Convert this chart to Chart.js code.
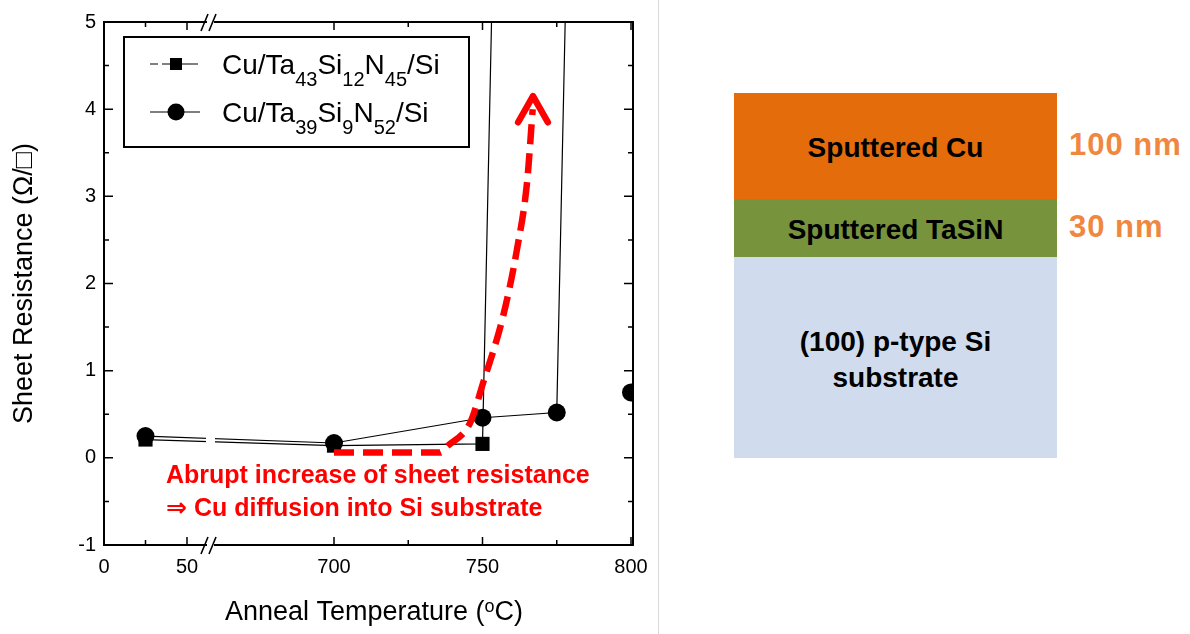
<!DOCTYPE html>
<html>
<head>
<meta charset="utf-8">
<script src="https://cdn.jsdelivr.net/npm/chart.js@4.4.1/dist/chart.umd.min.js"></script>
<style>
  body { margin: 0; background: #fff; }
  #wrap { position: relative; width: 1190px; height: 634px; overflow: hidden; }
  #plot { position: absolute; left: 0; top: 0; width: 660px; height: 634px; }
  #divider { position: absolute; left: 658px; top: 0; width: 1px; height: 634px; background: #d9d9d9; }
  .layer { position: absolute; left: 734px; width: 323px; display: flex; align-items: center; justify-content: center;
           box-sizing: border-box; padding-top: 4px;
           text-align: center; font: bold 28px 'Liberation Sans', Arial, sans-serif; color: #000; line-height: 36px; }
  .thick { position: absolute; left: 1069px; font: bold 31px 'Liberation Sans', Arial, sans-serif; color: #F0873F; letter-spacing: 1px; }
</style>
</head>
<body>
<div id="wrap">
  <div id="plot"><canvas id="chart" width="660" height="634"></canvas></div>
  <div id="divider"></div>
  <div id="stack"></div>
</div>
<script>
// sheet resistance vs anneal temperature
const squareTemps = [25, 700, 750, 775];
const squareRs = [0.21, 0.14, 0.16, 40];
const circleTemps = [25, 700, 750, 775, 800];
const circleRs = [0.25, 0.17, 0.46, 0.52, 40];
const edgeTemps = [800];
const edgeRs = [0.75];

const squareLabel = ['Cu/Ta', '43', 'Si', '12', 'N', '45', '/Si'];
const circleLabel = ['Cu/Ta', '39', 'Si', '9', 'N', '52', '/Si'];

// red annotation arrow
const arrowTemps = [700, 735.7, 738, 745.8, 750.2, 756.9, 761.6, 765, 766.9];
const arrowRs = [0.06, 0.06, 0.13, 0.40, 0.86, 1.62, 2.39, 3.16, 4.0];
const headTemps = [762, 767, 772];
const headRs = [3.85, 4.15, 3.85];
const noteLines = ['Abrupt increase of sheet resistance', '\u21D2 Cu diffusion into Si substrate'];

const xTickTemps = [0, 50, 700, 750, 800];
const xTickLabels = ['0', '50', '700', '750', '800'];
const xMinorTemps = [25, 725, 775];

// layer stack
const layerNames = [['Sputtered Cu'], ['Sputtered TaSiN'], ['(100) p-type Si', 'substrate']];
const layerThickness = ['100 nm', '30 nm', ''];
const layerColors = ['#E46C0A', '#77933C', '#D0DCEE'];

// broken axis: 0-100 and 700-800 share one linear scale
function tv(t) {
    return t <= 100 ? t * 1.66 : 230 + (t - 700) * 2.97;
}
const breakV = 106;

const FONT = "'Liberation Sans', 'DejaVu Sans', Arial, sans-serif";

function pts(ts, vs) { return ts.map((t, i) => ({ x: tv(t), y: vs[i] })); }

function drawRich(ctx, parts, x, y, size, subSize, subDy) {
    parts.forEach((p, i) => {
        const sub = i % 2 === 1;
        ctx.font = (sub ? subSize : size) + 'px ' + FONT;
        ctx.fillText(p, x, sub ? y + subDy : y);
        x += ctx.measureText(p).width;
    });
}

const framePlugin = {
    id: 'frame',
    afterDatasetsDraw(chart) {
        const ctx = chart.ctx, xs = chart.scales.x, ys = chart.scales.y;
        // gap in the data line at the axis break
        const bx = xs.getPixelForValue(breakV);
        ctx.save();
        ctx.fillStyle = '#fff';
        ctx.fillRect(bx - 4, ys.getPixelForValue(0.5), 9, ys.getPixelForValue(-0.05) - ys.getPixelForValue(0.5));
        ctx.restore();
    },
    afterDraw(chart) {
        const ctx = chart.ctx, xs = chart.scales.x, ys = chart.scales.y;
        const a = chart.chartArea;
        ctx.save();
        ctx.strokeStyle = '#000';
        ctx.lineWidth = 2;
        ctx.strokeRect(a.left, a.top, a.right - a.left, a.bottom - a.top);
        ctx.lineWidth = 1.5;
        ctx.beginPath();
        for (let v = -1; v <= 5; v += 0.5) {
            const y = ys.getPixelForValue(v);
            const len = Number.isInteger(v) ? 9 : 5;
            ctx.moveTo(a.left, y); ctx.lineTo(a.left + len, y);
            ctx.moveTo(a.right, y); ctx.lineTo(a.right - len, y);
        }
        xTickTemps.concat(xMinorTemps).forEach(t => {
            const x = xs.getPixelForValue(tv(t));
            const len = xMinorTemps.includes(t) ? 5 : 8;
            ctx.moveTo(x, a.bottom); ctx.lineTo(x, a.bottom - len);
            ctx.moveTo(x, a.top); ctx.lineTo(x, a.top + len);
        });
        ctx.stroke();
        // break marks
        const bx = xs.getPixelForValue(breakV);
        [a.top, a.bottom].forEach(y => {
            ctx.fillStyle = '#fff';
            ctx.fillRect(bx - 3, y - 2, 7, 4);
            ctx.beginPath();
            ctx.lineWidth = 1.6;
            ctx.moveTo(bx - 9, y + 9); ctx.lineTo(bx - 2, y - 8);
            ctx.moveTo(bx - 1, y + 9); ctx.lineTo(bx + 6, y - 8);
            ctx.stroke();
        });

        // legend
        ctx.lineWidth = 2;
        ctx.strokeRect(124, 37, 345, 110);
        ctx.lineWidth = 1.2;
        ctx.beginPath();
        ctx.moveTo(150, 64); ctx.lineTo(158, 64);
        ctx.moveTo(162, 64); ctx.lineTo(172, 64);
        ctx.moveTo(180, 64); ctx.lineTo(198, 64);
        ctx.moveTo(150, 112); ctx.lineTo(200, 112);
        ctx.stroke();
        ctx.fillStyle = '#000';
        ctx.fillRect(170, 58, 12, 12);
        ctx.beginPath(); ctx.arc(176, 112, 8.5, 0, Math.PI * 2); ctx.fill();
        ctx.textBaseline = 'alphabetic';
        ctx.textAlign = 'left';
        drawRich(ctx, squareLabel, 222, 74, 28, 20, 12);
        drawRich(ctx, circleLabel, 222, 122, 28, 20, 12);

        // x title with raised o
        ctx.font = '27px ' + FONT;
        const t1 = 'Anneal Temperature (', t3 = 'C)';
        const w1 = ctx.measureText(t1).width, w3 = ctx.measureText(t3).width;
        ctx.font = '18px ' + FONT;
        const w2 = ctx.measureText('o').width;
        let x = 374 - (w1 + w2 + w3) / 2;
        ctx.font = '27px ' + FONT;
        ctx.fillText(t1, x, 620);
        ctx.font = '18px ' + FONT;
        ctx.fillText('o', x + w1, 612);
        ctx.font = '27px ' + FONT;
        ctx.fillText(t3, x + w1 + w2, 620);

        // red note
        ctx.fillStyle = '#FF0000';
        ctx.font = 'bold 25px ' + FONT;
        ctx.textBaseline = 'middle';
        ctx.fillText(noteLines[0], 166, 476);
        ctx.fillText(noteLines[1], 166, 509);
        ctx.restore();
    }
};

new Chart(document.getElementById('chart'), {
    type: 'line',
    data: {
        datasets: [
            { data: pts(arrowTemps, arrowRs), borderColor: '#FF0000', borderWidth: 6.5, borderDash: [20, 9],
              cubicInterpolationMode: 'monotone', pointRadius: 0 },
            { data: pts(headTemps, headRs), borderColor: '#FF0000', borderWidth: 6.5, borderJoinStyle: 'round',
              borderCapStyle: 'round', tension: 0, pointRadius: 0 },
            { label: circleLabel.join(''), data: pts(circleTemps, circleRs), borderColor: '#000', borderWidth: 1.2,
              pointStyle: 'circle', pointRadius: 9, pointBackgroundColor: '#000', pointBorderWidth: 0, tension: 0, clip: 0 },
            { label: squareLabel.join(''), data: pts(squareTemps, squareRs), borderColor: '#000', borderWidth: 1.2,
              pointStyle: 'rect', pointRadius: 10, pointBackgroundColor: '#000', pointBorderWidth: 0, tension: 0, clip: 0 },
            { data: pts(edgeTemps, edgeRs), showLine: false, pointStyle: 'circle', pointRadius: 9,
              pointBackgroundColor: '#000', pointBorderWidth: 0, clip: 0 }
        ]
    },
    options: {
        responsive: false,
        animation: false,
        layout: { padding: { top: 22, right: 27, left: 0, bottom: 0 } },
        plugins: { legend: { display: false }, tooltip: { enabled: false } },
        scales: {
            x: {
                type: 'linear', min: 0, max: 529,
                grid: { display: false, drawTicks: false }, border: { display: false },
                afterBuildTicks: s => { s.ticks = xTickTemps.map(t => ({ value: tv(t) })); },
                afterFit: s => { s.height = 89; },
                ticks: { autoSkip: false, maxRotation: 0, padding: 10, color: '#000',
                         font: { size: 20, family: FONT },
                         callback: (v, i) => xTickLabels[i] }
            },
            y: {
                min: -1, max: 5,
                grid: { display: false, drawTicks: false }, border: { display: false },
                afterFit: s => { s.width = 104; },
                ticks: { stepSize: 1, padding: 8, color: '#000', font: { size: 20, family: FONT } },
                title: { display: true, text: 'Sheet Resistance (\u03A9/\u25A1)', color: '#000',
                         font: { size: 27, family: FONT }, padding: { top: 8, bottom: 0 } }
            }
        }
    },
    plugins: [framePlugin]
});

// layer stack on the right
(function buildStack() {
    const stack = document.getElementById('stack');
    const heights = [106, 58, 201];
    let top = 93;
    layerNames.forEach((lines, i) => {
        const d = document.createElement('div');
        d.className = 'layer';
        d.style.top = top + 'px';
        d.style.height = heights[i] + 'px';
        d.style.background = layerColors[i];
        d.innerHTML = lines.join('<br>');
        stack.appendChild(d);
        if (layerThickness[i]) {
            const t = document.createElement('div');
            t.className = 'thick';
            t.textContent = layerThickness[i];
            t.style.top = (top + heights[i] / 2 - 19) + 'px';
            stack.appendChild(t);
        }
        top += heights[i];
    });
})();
</script>
</body>
</html>
